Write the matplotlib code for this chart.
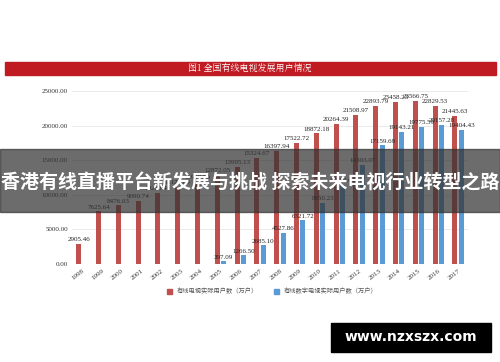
import matplotlib.pyplot as plt
from matplotlib.patches import Rectangle
import numpy as np

plt.rcParams["font.family"] = ["Noto Sans CJK SC", "DejaVu Sans"]

# 数据
years = [str(y) for y in range(1998, 2018)]
cable_users = [2905.46, 7625.64, 8476.03, 9090.74, 10268.40, 11127.00, 11902.50,
               12872.05, 13995.13, 15324.67, 16397.94, 17522.72, 18872.18, 20264.39,
               21508.97, 22893.79, 23458.23, 23566.75, 22829.53, 21445.63]
digital_users = [0, 0, 0, 0, 0, 0, 0,
                 397.09, 1266.50, 2685.10, 4527.86, 6321.72, 8850.23, 11489.00,
                 14303.07, 17159.69, 19143.21, 19775.59, 20157.28, 19404.43]

red = "#C0504D"
blue = "#5B9BD5"

fig = plt.figure(figsize=(5, 3.62), dpi=100)

# 标题栏
fig.patches.append(Rectangle((0.01, 0.793), 0.982, 0.036, transform=fig.transFigure,
                             color="#C01A22", zorder=0))
fig.text(0.5, 0.811, "图1 全国有线电视发展用户情况", ha="center", va="center",
         color="white", fontsize=6.5, family=["Noto Serif CJK SC", "Noto Sans CJK SC", "DejaVu Sans"])

ax = fig.add_axes([0.144, 0.2707, 0.792, 0.4779])
x = np.arange(len(years))
w = 0.25
ax.bar(x - 0.16, cable_users, width=w, color=red, zorder=2)
ax.bar(x + 0.16, digital_users, width=w, color=blue, zorder=2)

num_font = {"family": "Liberation Serif", "size": 5}
for i, v in enumerate(cable_users):
    ax.text(x[i] - 0.16, v + 250, "%.2f" % v, ha="center", va="bottom", fontdict=num_font, color="#222222")
for i, v in enumerate(digital_users):
    if v > 0:
        ax.text(x[i] + 0.16, v + 250, "%.2f" % v, ha="center", va="bottom", fontdict=num_font, color="#222222")

ax.set_xlim(-0.5, len(years) - 0.5)
ax.set_ylim(0, 25000)
ax.set_yticks(range(0, 25001, 5000))
ax.set_yticklabels(["%.2f" % t for t in range(0, 25001, 5000)], fontdict=num_font, color="#333333")
ax.set_xticks(x)
ax.set_xticklabels(years, rotation=38, fontdict=num_font, color="#333333", ha="right", rotation_mode="anchor")
ax.tick_params(length=0, pad=3)
ax.grid(axis="y", color="#E6E6E6", linewidth=0.6, zorder=0)
for s in ax.spines.values():
    s.set_visible(False)
ax.axhline(0, color="#D9D9D9", linewidth=0.6, zorder=1)

# 图例
handles = [Rectangle((0, 0), 1, 1, color=red), Rectangle((0, 0), 1, 1, color=blue)]
fig.legend(handles, ["有线电视实际用户数（万户）", "有线数字电视实际用户数（万户）"],
           loc="center", bbox_to_anchor=(0.545, 0.195), ncol=2, frameon=False,
           fontsize=4.5, handlelength=0.8, handleheight=0.8, columnspacing=2.5,
           labelcolor="#555555")

# 覆盖横幅
fig.patches.append(Rectangle((0, 0.414), 1, 0.174, transform=fig.transFigure,
                             color="#333333", alpha=0.72, zorder=5))
fig.text(0.5, 0.495, "香港有线直播平台新发展与挑战 探索未来电视行业转型之路", ha="center", va="center",
         color="white", fontsize=13.7, fontweight="bold", zorder=6)

# 水印
fig.patches.append(Rectangle((0.662, 0.028), 0.32, 0.08, transform=fig.transFigure,
                             color="black", zorder=5))
fig.text(0.822, 0.068, "www.nzxszx.com", ha="center", va="center", color="white",
         fontsize=10, fontweight="bold", family="DejaVu Sans", zorder=6)

fig.savefig("out.png", dpi=100)
